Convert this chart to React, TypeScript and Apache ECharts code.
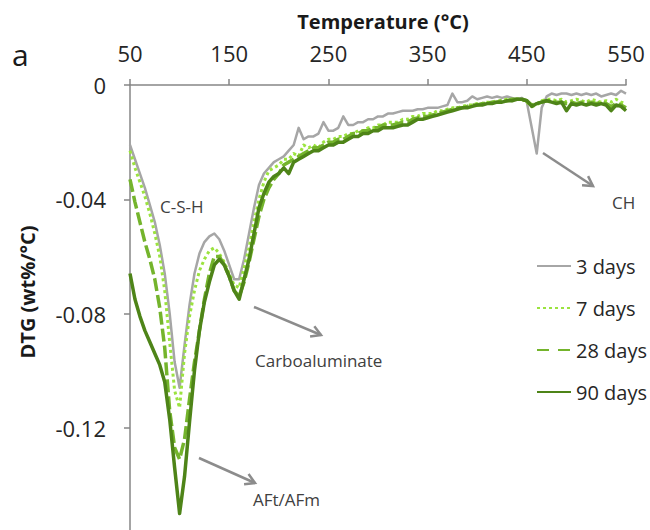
import React, { useEffect, useRef } from "react";
import * as echarts from "echarts";

const temps = [
  50, 55, 60, 65, 70, 75, 80, 85, 90, 95, 100, 105, 110, 115, 120, 125, 130, 135, 140, 145,
  150, 155, 160, 165, 170, 175, 180, 185, 190, 195, 200, 205, 210, 215, 220, 225, 230, 235, 240, 245,
  250, 255, 260, 265, 270, 275, 280, 285, 290, 295, 300, 305, 310, 315, 320, 325, 330, 335, 340, 345,
  350, 355, 360, 365, 370, 375, 380, 385, 390, 395, 400, 405, 410, 415, 420, 425, 430, 435, 440, 445,
  450, 455, 460, 465, 470, 475, 480, 485, 490, 495, 500, 505, 510, 515, 520, 525, 530, 535, 540, 545, 550,
];

const days3 = [
  -0.021, -0.026, -0.031, -0.036, -0.042, -0.048, -0.056, -0.066, -0.08, -0.097,
  -0.106, -0.091, -0.077, -0.066, -0.059, -0.055, -0.053, -0.052, -0.054, -0.058,
  -0.063, -0.068, -0.068, -0.061, -0.052, -0.043, -0.035, -0.031, -0.029, -0.027,
  -0.026, -0.025, -0.023, -0.021, -0.015, -0.019, -0.018, -0.018, -0.017, -0.013,
  -0.016, -0.016, -0.015, -0.011, -0.014, -0.014, -0.013, -0.013, -0.012, -0.012,
  -0.011, -0.011, -0.01, -0.01, -0.0095, -0.009, -0.009, -0.009, -0.0085, -0.0085,
  -0.008, -0.008, -0.008, -0.0075, -0.007, -0.003, -0.006, -0.006, -0.0055, -0.004,
  -0.005, -0.0045, -0.004, -0.0045, -0.004, -0.0045, -0.004, -0.0045, -0.005, -0.0045,
  -0.006, -0.015, -0.024, -0.008, -0.004, -0.003, -0.0035, -0.003, -0.003, -0.0035,
  -0.003, -0.0035, -0.003, -0.0035, -0.003, -0.004, -0.0035, -0.003, -0.0035, -0.002, -0.003,
];

const days7 = [
  -0.023, -0.029, -0.034, -0.039, -0.045, -0.052, -0.06, -0.072, -0.09, -0.107,
  -0.113, -0.094, -0.081, -0.072, -0.065, -0.061, -0.058, -0.057, -0.059, -0.062,
  -0.066, -0.07, -0.071, -0.064, -0.057, -0.048, -0.04, -0.034, -0.03, -0.029,
  -0.028, -0.026, -0.026, -0.024, -0.025, -0.021, -0.022, -0.021, -0.022, -0.02,
  -0.019, -0.019, -0.018, -0.018, -0.017, -0.017, -0.016, -0.016, -0.015, -0.015,
  -0.014, -0.014, -0.013, -0.013, -0.013, -0.012, -0.012, -0.011, -0.011, -0.01,
  -0.01, -0.01, -0.009, -0.009, -0.0085, -0.008, -0.008, -0.0075, -0.007, -0.007,
  -0.0065, -0.0065, -0.006, -0.006, -0.0055, -0.0055, -0.005, -0.0055, -0.005, -0.005,
  -0.006, -0.0075, -0.007, -0.0055, -0.005, -0.005, -0.0055, -0.005, -0.006, -0.0055,
  -0.005, -0.0055, -0.006, -0.005, -0.0055, -0.006, -0.0055, -0.006, -0.005, -0.006, -0.0065,
];

const days28 = [
  -0.033, -0.041, -0.048, -0.055, -0.061, -0.068, -0.078, -0.092, -0.114, -0.127,
  -0.131, -0.124, -0.11, -0.097, -0.086, -0.075, -0.066, -0.06, -0.06, -0.063,
  -0.067, -0.072, -0.074, -0.069, -0.062, -0.054, -0.046, -0.04, -0.036, -0.033,
  -0.031, -0.028, -0.027, -0.026, -0.025, -0.024, -0.023, -0.022, -0.022, -0.021,
  -0.02, -0.02, -0.019, -0.019, -0.018, -0.017, -0.017, -0.016, -0.016, -0.015,
  -0.015, -0.014, -0.014, -0.014, -0.0135, -0.013, -0.013, -0.012, -0.0115, -0.011,
  -0.011, -0.0105, -0.01, -0.0095, -0.009, -0.0085, -0.008, -0.008, -0.0075, -0.007,
  -0.007, -0.0065, -0.0065, -0.006, -0.006, -0.0055, -0.0055, -0.005, -0.005, -0.005,
  -0.0055, -0.007, -0.0065, -0.006, -0.0055, -0.0055, -0.006, -0.006, -0.0065, -0.006,
  -0.0065, -0.006, -0.0065, -0.006, -0.0065, -0.006, -0.0065, -0.0075, -0.0065, -0.007, -0.008,
];

const days90 = [
  -0.066, -0.075, -0.081, -0.086, -0.09, -0.094, -0.098, -0.104, -0.117, -0.134,
  -0.15, -0.137, -0.118, -0.1, -0.086, -0.076, -0.069, -0.063, -0.061, -0.063,
  -0.067, -0.072, -0.075, -0.068, -0.061, -0.052, -0.043, -0.038, -0.034, -0.032,
  -0.031, -0.029, -0.031, -0.027, -0.026, -0.025, -0.024, -0.023, -0.023, -0.022,
  -0.021, -0.021, -0.02, -0.02, -0.019, -0.018, -0.018, -0.017, -0.017, -0.016,
  -0.016, -0.015, -0.015, -0.015, -0.0145, -0.014, -0.014, -0.013, -0.012, -0.012,
  -0.0115, -0.011, -0.0105, -0.01, -0.0095, -0.009, -0.0085, -0.008, -0.008, -0.0075,
  -0.007, -0.007, -0.0065, -0.0065, -0.006, -0.006, -0.0055, -0.0055, -0.005, -0.005,
  -0.0055, -0.0075, -0.0065, -0.006, -0.0055, -0.006, -0.0065, -0.006, -0.009, -0.0065,
  -0.007, -0.0065, -0.007, -0.0065, -0.007, -0.0065, -0.007, -0.009, -0.007, -0.0075, -0.009,
];

const seriesNames = ["3 days", "7 days", "28 days", "90 days"];
const xTicks = { min: 50, max: 550, interval: 100 };
const yTicks = { min: -0.16, max: 0, interval: 0.04 };

const FONT = "Open Sans";
const AXIS_COLOR = "#868686";
const ARROW_COLOR = "#8c8c8c";

function arrow(x1: number, y1: number, x2: number, y2: number) {
  const ang = Math.atan2(y2 - y1, x2 - x1);
  const len = 11;
  const spread = Math.PI / 6;
  const p1 = [x2 - len * Math.cos(ang - spread), y2 - len * Math.sin(ang - spread)];
  const p2 = [x2 - len * Math.cos(ang + spread), y2 - len * Math.sin(ang + spread)];
  return {
    type: "group",
    children: [
      {
        type: "line",
        shape: { x1, y1, x2, y2 },
        style: { stroke: ARROW_COLOR, lineWidth: 2.5 },
      },
      {
        type: "polyline",
        shape: { points: [p1, [x2, y2], p2] },
        style: { stroke: ARROW_COLOR, lineWidth: 2.5, fill: null },
      },
    ],
  };
}

function label(text: string, x: number, y: number, size = 17, align = "left") {
  return {
    type: "text",
    x,
    y,
    style: {
      text,
      fontSize: size,
      fontFamily: FONT,
      fill: "#404040",
      align,
      verticalAlign: "middle",
    },
  };
}

export default function App() {
  const ref = useRef<HTMLDivElement>(null);

  useEffect(() => {
    if (!ref.current) return;
    const chart = echarts.init(ref.current, undefined, { renderer: "svg" });
    const mk = (vals: number[]) => temps.map((t, i) => [t, vals[i]]);
    const colors = ["#a6a6a6", "#9be33f", "#74b42c", "#4e8418"];
    const styles: any[] = [
      { width: 2.5, type: "solid" },
      { width: 3, type: [3, 3] },
      { width: 3.5, type: [13, 4] },
      { width: 3.5, type: "solid" },
    ];
    const datas = [days3, days7, days28, days90];

    chart.setOption({
      animation: false,
      textStyle: { fontFamily: FONT },
      grid: { left: 130, right: 24, top: 85, height: 457, outerBoundsMode: "none", containLabel: false },
      legend: {
        orient: "vertical",
        left: 531,
        top: 251,
        itemWidth: 34,
        itemHeight: 14,
        itemGap: 22,
        itemStyle: { opacity: 0 },
        textStyle: { fontSize: 20, color: "#262626", fontFamily: FONT },
        data: [
          { name: "3 days" },
          { name: "7 days" },
          { name: "28 days", lineStyle: { type: [12, 9] } },
          { name: "90 days" },
        ],
      },
      xAxis: {
        type: "value",
        position: "top",
        min: xTicks.min,
        max: xTicks.max,
        interval: xTicks.interval,
        splitLine: { show: false },
        axisLine: { onZero: false, lineStyle: { color: AXIS_COLOR, width: 1.5 } },
        axisTick: { length: 6, lineStyle: { color: AXIS_COLOR, width: 1.5 } },
        axisLabel: { fontSize: 22, color: "#262626", margin: 21, fontFamily: FONT },
      },
      yAxis: {
        type: "value",
        min: yTicks.min,
        max: yTicks.max,
        interval: yTicks.interval,
        splitLine: { show: false },
        axisLine: { onZero: false, lineStyle: { color: AXIS_COLOR, width: 1.5 } },
        axisTick: { length: 6, lineStyle: { color: AXIS_COLOR, width: 1.5 } },
        axisLabel: {
          fontSize: 22,
          color: "#262626",
          margin: 24,
          fontFamily: FONT,
          formatter: (v: number) => (v === 0 ? "0" : v < -0.15 ? "" : v.toFixed(2)),
        },
      },
      series: seriesNames.map((name, i) => ({
        name,
        type: "line",
        data: mk(datas[i]),
        symbol: "none",
        showSymbol: false,
        color: colors[i],
        lineStyle: { color: colors[i], ...styles[i], join: "round" },
        z: 2 + i,
      })),
      graphic: [
        {
          type: "text",
          x: 12,
          y: 54,
          style: { text: "a", fontSize: 30, fontFamily: FONT, fill: "#1a1a1a", align: "left", verticalAlign: "middle" },
        },
        {
          type: "text",
          x: 383,
          y: 21,
          style: {
            text: "Temperature (°C)",
            fontSize: 20,
            fontWeight: "bold",
            fontFamily: FONT,
            fill: "#1a1a1a",
            align: "center",
            verticalAlign: "middle",
          },
        },
        {
          type: "text",
          x: 27,
          y: 292,
          rotation: Math.PI / 2,
          style: {
            text: "DTG (wt%/°C)",
            fontSize: 20,
            fontWeight: "bold",
            fontFamily: FONT,
            fill: "#1a1a1a",
            align: "center",
            verticalAlign: "middle",
          },
        },
        label("C-S-H", 160, 206),
        label("Carboaluminate", 255, 360),
        label("AFt/AFm", 253, 499),
        label("CH", 612, 202),
        arrow(254, 307, 321, 335),
        arrow(199, 458, 255, 483),
        arrow(543, 153, 593, 186),
      ],
    });
    return () => chart.dispose();
  }, []);

  return (
    <div
      ref={ref}
      style={{ position: "fixed", left: 0, top: 0, width: 650, height: 530, background: "#fff" }}
    />
  );
}
